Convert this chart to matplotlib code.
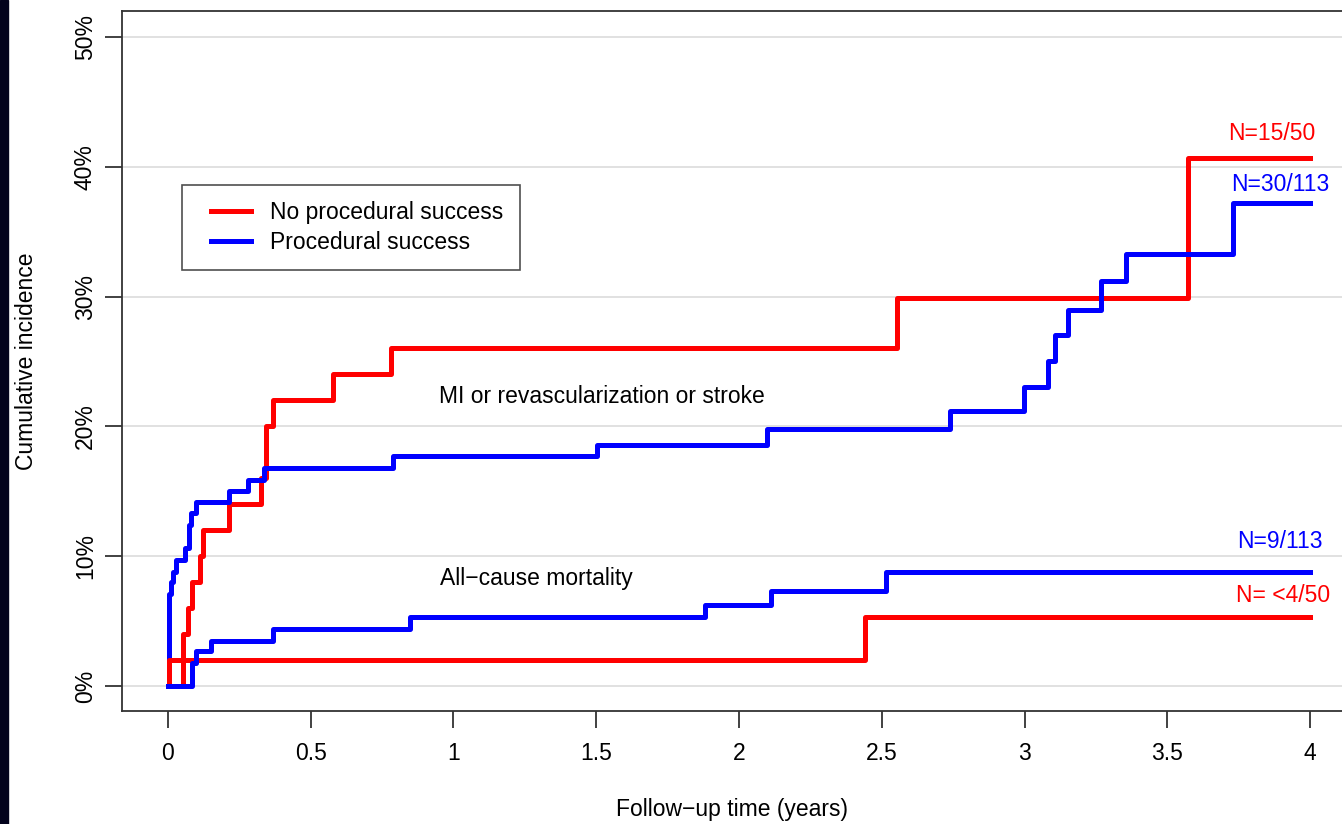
import matplotlib
matplotlib.use("Agg")
import matplotlib.pyplot as plt
from matplotlib.patches import Rectangle
from matplotlib.lines import Line2D
from matplotlib.legend_handler import HandlerLine2D

plt.rcParams['font.family'] = ['Liberation Sans', 'DejaVu Sans']

# MI or revascularization or stroke
mi_red_t = [0, 0.054, 0.071, 0.083, 0.112, 0.124, 0.213, 0.326, 0.342, 0.369, 0.579, 0.781, 2.552, 3.572, 4.0]
mi_red_y = [0, 4.0, 6.0, 8.0, 10.0, 12.0, 14.0, 16.0, 20.0, 22.0, 24.0, 26.0, 29.9, 40.7, 40.7]
mi_blue_t = [0, 0.002, 0.004, 0.009, 0.016, 0.028, 0.060, 0.075, 0.079, 0.097, 0.213, 0.281, 0.337,
             0.788, 1.503, 2.098, 2.739, 2.998, 3.082, 3.107, 3.152, 3.268, 3.356, 3.730, 4.0]
mi_blue_y = [0, 5.3, 7.1, 8.0, 8.8, 9.7, 10.6, 12.4, 13.3, 14.2, 15.0, 15.9, 16.8,
             17.7, 18.6, 19.8, 21.2, 23.0, 25.0, 27.0, 29.0, 31.2, 33.3, 37.2, 37.2]

# All-cause mortality
mort_red_t = [0, 0.005, 2.44, 4.0]
mort_red_y = [0, 2.0, 5.3, 5.3]
mort_blue_t = [0, 0.083, 0.097, 0.149, 0.369, 0.848, 1.881, 2.112, 2.515, 4.0]
mort_blue_y = [0, 1.8, 2.7, 3.5, 4.4, 5.3, 6.2, 7.3, 8.8, 8.8]

x_ticks = [0, 0.5, 1, 1.5, 2, 2.5, 3, 3.5, 4]
x_labels = ['0', '0.5', '1', '1.5', '2', '2.5', '3', '3.5', '4']
y_ticks = [0, 10, 20, 30, 40, 50]

RED = '#ff0000'
BLUE = '#0000ff'
FS = 16.5

fig = plt.figure(figsize=(13.42, 8.24), dpi=100)
fig.patches.append(Rectangle((0, 0), 8 / 1342, 1, transform=fig.transFigure,
                             color='#02021c', zorder=0))
ax = fig.add_axes([122 / 1342, 1 - 711 / 824, 1 - 122 / 1342, 700 / 824])

ax.step(mi_red_t, mi_red_y, where='post', color=RED, lw=3.6, label='No procedural success')
ax.step(mi_blue_t, mi_blue_y, where='post', color=BLUE, lw=3.6, label='Procedural success')
ax.step(mort_red_t, mort_red_y, where='post', color=RED, lw=3.6)
ax.step(mort_blue_t, mort_blue_y, where='post', color=BLUE, lw=3.6)

ax.set_xlim(-0.161, 4.112)
ax.set_ylim(-1.93, 52.0)
for y in y_ticks:
    ax.axhline(y, color='#dcdcdc', lw=1.2, zorder=0)

ax.set_xticks(x_ticks)
ax.set_xticklabels(x_labels)
ax.set_yticks(y_ticks)
ax.set_yticklabels(['%d%%' % v for v in y_ticks], rotation=90, va='center')
ax.tick_params(axis='both', length=12, width=1.3, color='#333333', labelsize=FS)
ax.tick_params(axis='x', pad=10)
ax.tick_params(axis='y', pad=6)
ax.spines['right'].set_visible(False)
for s in ['left', 'bottom', 'top']:
    ax.spines[s].set_color('#333333')
    ax.spines[s].set_linewidth(1.3)

ax.set_xlabel('Follow\u2212up time (years)', fontsize=FS, labelpad=24)
ax.set_ylabel('Cumulative incidence', fontsize=FS, labelpad=26)

ax.text(1.52, 22.3, 'MI or revascularization or stroke', fontsize=FS, ha='center', va='center')
ax.text(0.953, 8.3, 'All\u2212cause mortality', fontsize=FS, ha='left', va='center')
ax.text(3.867, 42.6, 'N=15/50', color=RED, fontsize=FS, ha='center', va='center')
ax.text(3.895, 38.6, 'N=30/113', color=BLUE, fontsize=FS, ha='center', va='center')
ax.text(3.895, 11.1, 'N=9/113', color=BLUE, fontsize=FS, ha='center', va='center')
ax.text(3.906, 7.0, 'N= <4/50', color=RED, fontsize=FS, ha='center', va='center')

leg = ax.legend(loc='upper left', bbox_to_anchor=((182 - 122) / 1220, 1 - (185 - 11) / 700),
                fontsize=FS, frameon=True, fancybox=False, edgecolor='#222222',
                handlelength=2.3, handletextpad=0.85, borderpad=0.7, labelspacing=0.3,
                borderaxespad=0, handler_map={Line2D: HandlerLine2D(xpad=0.55)})
leg.get_frame().set_linewidth(1.2)

fig.savefig('out.png', dpi=100)
